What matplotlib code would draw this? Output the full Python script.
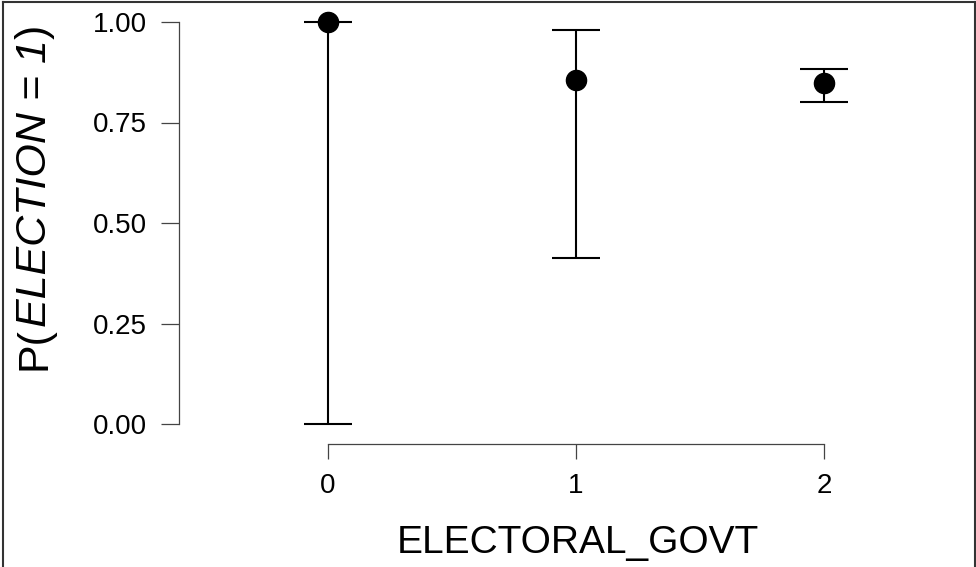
import matplotlib
matplotlib.use("Agg")
import matplotlib.pyplot as plt
from matplotlib.lines import Line2D
import numpy as np

FONT = "Liberation Sans"
plt.rcParams["font.family"] = FONT

# data
levels = [0, 1, 2]
prob = [1.000, 0.856, 0.848]
ci_lower = [0.000, 0.413, 0.801]
ci_upper = [1.000, 0.980, 0.883]
y_ticks = [0.0, 0.25, 0.5, 0.75, 1.0]
y_tick_labels = ["0.00", "0.25", "0.50", "0.75", "1.00"]

W, H = 976, 567
fig = plt.figure(figsize=(W / 100, H / 100), dpi=100, facecolor="white")

# axes in pixel coordinates
left_px, right_px, top_px, bottom_px = 179, 900, 10, 444
ax = fig.add_axes([left_px / W, 1 - bottom_px / H,
                   (right_px - left_px) / W, (bottom_px - top_px) / H])

x0_px, x_scale = 328, 248
y0_px, y_scale = 424, 402
ax.set_xlim((left_px - x0_px) / x_scale, (right_px - x0_px) / x_scale)
ax.set_ylim((y0_px - bottom_px) / y_scale, (y0_px - top_px) / y_scale)

x = np.array(levels)
p = np.array(prob)
err = np.vstack([p - np.array(ci_lower), np.array(ci_upper) - p])
ax.errorbar(x, p, yerr=err, fmt="none", ecolor="black", elinewidth=1.5,
            capsize=17.5, capthick=1.5, zorder=2)
ax.plot(x, p, "o", color="black", markersize=14.5, zorder=3)

for side in ("top", "right"):
    ax.spines[side].set_visible(False)
ax.spines["left"].set_bounds(0, 1)
ax.spines["bottom"].set_bounds(0, 2)
for side in ("left", "bottom"):
    ax.spines[side].set_color("#444444")
    ax.spines[side].set_linewidth(0.9)

ax.set_xticks(levels, [str(v) for v in levels])
ax.set_yticks(y_ticks, y_tick_labels)
ax.tick_params(axis="both", width=0.9, color="#444444", labelsize=20)
ax.tick_params(axis="x", length=11, pad=10)
ax.tick_params(axis="y", length=13, pad=10)

ax.set_xlabel("ELECTORAL_GOVT", fontsize=28)
ax.xaxis.set_label_coords((578 - left_px) / (right_px - left_px),
                          (bottom_px - 525) / (bottom_px - top_px))

# y label built from upright and italic pieces, stacked bottom to top
renderer = fig.canvas.get_renderer()
label_pieces = [("P(", "normal"), ("ELECTION = 1", "italic"), (")", "normal")]
y_pos = H - 370
for piece, style in label_pieces:
    t = fig.text(46 / W, y_pos / H, piece, rotation=90, rotation_mode="anchor",
                 ha="left", va="baseline", fontsize=31, fontstyle=style)
    y_pos += t.get_window_extent(renderer).height

# figure frame: left, top, right
frame_kw = dict(color="#333333", linewidth=1.5, transform=fig.transFigure)
fig.add_artist(Line2D([2.5 / W, 2.5 / W], [0, 1 - 1.5 / H], **frame_kw))
fig.add_artist(Line2D([2.5 / W, 1 - 1.5 / W], [1 - 1.5 / H, 1 - 1.5 / H], **frame_kw))
fig.add_artist(Line2D([1 - 1.5 / W, 1 - 1.5 / W], [0, 1 - 1.5 / H], **frame_kw))

fig.savefig("out.png", dpi=100, facecolor="white")
